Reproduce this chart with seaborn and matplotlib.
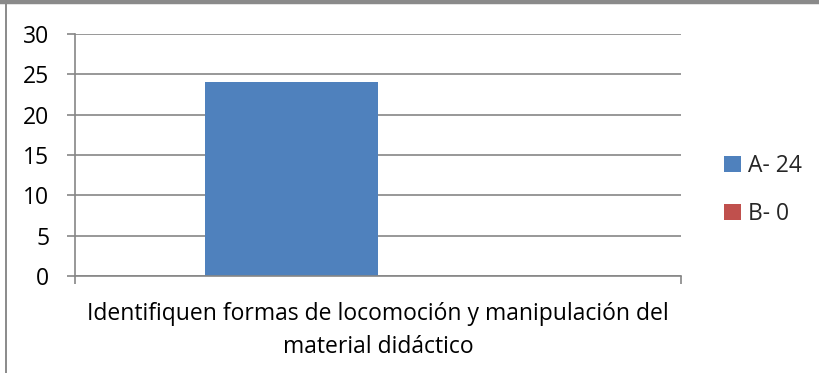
import matplotlib
matplotlib.use("Agg")
import matplotlib.pyplot as plt
import matplotlib.lines as mlines
import seaborn as sns
import pandas as pd

# Data
categories = ["Identifiquen formas de locomoción y manipulación del\nmaterial didáctico"]
series = ["A- 24", "B- 0"]
values = [24, 0]
y_ticks = [0, 5, 10, 15, 20, 25, 30]
colors = ["#4F81BD", "#C0504D"]

df = pd.DataFrame({
    "categoria": [categories[0]] * len(series),
    "serie": series,
    "valor": values,
})

sns.set_theme(style="white")
plt.rcParams["font.family"] = ["Open Sans", "DejaVu Sans"]

FS = 16.5
W, H = 819, 373
fig = plt.figure(figsize=(W / 100, H / 100), dpi=100)
ax = fig.add_axes([75 / W, 1 - 276 / H, (681 - 75) / W, (276 - 34) / H])

sns.barplot(data=df, x="categoria", y="valor", hue="serie", palette=colors,
            width=0.571, dodge=True, ax=ax, legend=True, saturation=1,
            linewidth=0, edgecolor="none")

grid_color = "#868686"
ax.set_xlim(-0.5, 0.5)
ax.set_ylim(0, 30)
ax.set_yticks(y_ticks)
ax.set_yticklabels([str(t) for t in y_ticks], fontsize=FS, color="black")
ax.yaxis.grid(True, color=grid_color, linewidth=1.2)
ax.set_axisbelow(True)
ax.tick_params(axis="y", which="major", length=5.5, width=1.2, color=grid_color,
               direction="out", pad=13, left=True)

ax.set_xticks([0])
ax.set_xticklabels(categories, fontsize=FS, color="black", linespacing=1.47)
ax.tick_params(axis="x", which="major", length=0, pad=19)
ax.set_xticks([-0.5, 0.5], minor=True)
ax.tick_params(axis="x", which="minor", length=6, width=1.2, color=grid_color,
               direction="out", bottom=True)
ax.set_xlabel("")
ax.set_ylabel("")

for side in ["top", "right"]:
    ax.spines[side].set_visible(False)
for side in ["left", "bottom"]:
    ax.spines[side].set_color(grid_color)
    ax.spines[side].set_linewidth(1.2)

# Legend on the right
handles, labels = ax.get_legend_handles_labels()
ax.legend_.remove()
fig.legend(handles, labels, loc="center left",
           bbox_to_anchor=(715 / W, 1 - 190 / H), frameon=False,
           fontsize=FS, handlelength=0.75, handleheight=0.75,
           handletextpad=0.28, labelspacing=1.05, borderaxespad=0)

# Chart frame edges
fig.add_artist(mlines.Line2D([0, 1], [1 - 2 / H, 1 - 2 / H], color="#8a8a8a",
                             linewidth=3.2, transform=fig.transFigure))
fig.add_artist(mlines.Line2D([5.5 / W, 5.5 / W], [0, 1 - 3 / H], color="#8a8a8a",
                             linewidth=1.4, transform=fig.transFigure))

fig.savefig("out.png", dpi=100)
